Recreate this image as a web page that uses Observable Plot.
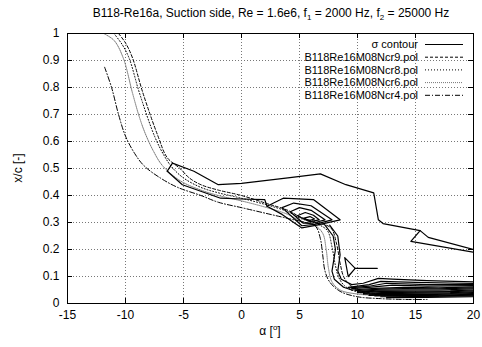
<!DOCTYPE html>
<html><head><meta charset="utf-8">
<script src="https://cdn.jsdelivr.net/npm/d3@7"></script>
<script src="https://cdn.jsdelivr.net/npm/@observablehq/plot@0.6"></script>
<style>
body{margin:0;background:#fff;}
svg{font-family:"Liberation Sans",Arial,sans-serif;}
</style></head>
<body><div id="chart"></div>
<script>
const xTicks = [-15, -10, -5, 0, 5, 10, 15, 20];
const yTicks = [0, 0.1, 0.2, 0.3, 0.4, 0.5, 0.6, 0.7, 0.8, 0.9, 1];
const legendLabels = ["σ contour", "B118Re16M08Ncr9.pol", "B118Re16M08Ncr8.pol", "B118Re16M08Ncr6.pol", "B118Re16M08Ncr4.pol"];

const ncr9 = [[-10.6,1.0],[-10.0,0.965],[-9.4,0.91],[-8.5,0.78],[-7.2,0.62],[-6.4,0.54],[-5.3,0.50],[-4.5,0.465],[-3.5,0.44],[-2,0.42],[0,0.40],[2.2,0.37],[4,0.345],[5.1,0.32],[6.5,0.30],[7.7,0.28],[8.2,0.22],[8.5,0.15],[8.8,0.10],[9.3,0.07],[10,0.05],[11,0.04],[13,0.033],[15,0.03]];
const ncr8 = [[-11.0,1.0],[-10.3,0.96],[-9.7,0.91],[-8.8,0.78],[-7.5,0.62],[-6.7,0.55],[-6.0,0.505],[-5,0.465],[-3.5,0.43],[-2,0.41],[0,0.39],[2.2,0.365],[4,0.34],[5.1,0.315],[6.5,0.295],[7.4,0.27],[7.8,0.21],[8.1,0.14],[8.4,0.095],[8.9,0.065],[9.8,0.045],[11,0.035],[13,0.03],[15,0.027]];
const ncr6 = [[-11.9,1.0],[-11,0.975],[-10.2,0.91],[-9.4,0.78],[-8.8,0.69],[-8.3,0.63],[-7.6,0.565],[-6.8,0.51],[-5.3,0.455],[-3.5,0.42],[-2,0.40],[0,0.38],[2.2,0.355],[4,0.33],[5.1,0.305],[6.3,0.29],[7.0,0.26],[7.3,0.20],[7.5,0.13],[7.8,0.08],[8.5,0.05],[10,0.035],[12,0.03],[14,0.028],[17,0.026]];
const ncr4 = [[-11.8,0.875],[-11.2,0.80],[-10.6,0.70],[-10.0,0.62],[-9.2,0.555],[-8.4,0.51],[-7,0.465],[-5.5,0.43],[-3.5,0.40],[-2,0.375],[0,0.355],[2,0.335],[4,0.315],[5.5,0.30],[6.4,0.285],[6.8,0.24],[7.0,0.18],[7.2,0.12],[7.6,0.08],[8.5,0.045],[10,0.025],[12,0.018],[14,0.015],[16,0.015]];

const sigmaUpper = [[-6.4,0.49],[-5.95,0.52],[-4.1,0.49],[-2.0,0.44],[0,0.445],[2,0.455],[4,0.465],[6.8,0.48],[9,0.44],[11.4,0.41],[11.6,0.36],[11.8,0.31],[12.2,0.296],[15.4,0.27],[14.6,0.23],[20,0.19]];
const sigmaSpike = [[15.4,0.27],[16.1,0.245],[20,0.2]];
const sigmaLower = [[-6.4,0.49],[-5.1,0.44],[-1.8,0.39],[0,0.387],[2,0.385],[2.2,0.36]];
const sigmaLoop1 = [[2.2,0.36],[3.6,0.39],[6.2,0.385],[8.5,0.31],[6.5,0.29],[5.2,0.28],[3.5,0.33],[2.2,0.36]];
const sigmaLoop2 = [[3.5,0.355],[4.5,0.372],[6.0,0.362],[7.8,0.31],[6.3,0.293],[5.2,0.288],[3.5,0.355]];
const sigmaLoop3 = [[4.2,0.34],[5.0,0.355],[6.0,0.345],[7.2,0.31],[6.2,0.298],[5.3,0.298],[4.2,0.34]];
const sigmaLoop4 = [[4.8,0.325],[5.5,0.337],[6.2,0.327],[6.7,0.31],[5.9,0.303],[4.8,0.325]];
const sigmaLoop5 = [[5.4,0.316],[5.9,0.322],[6.3,0.313],[5.8,0.307],[5.4,0.316]];
const sigmaDrop1 = [[7.2,0.29],[7.9,0.25],[8.1,0.20],[7.8,0.12],[8.0,0.09],[8.8,0.06],[9.5,0.05]];
const sigmaDrop2 = [[7.6,0.29],[8.3,0.25],[8.5,0.18],[8.3,0.12],[8.6,0.09],[9.5,0.07]];
const sigmaTri = [[8.9,0.17],[9.8,0.13],[9.2,0.10],[8.9,0.17]];
const sigmaStem = [[9.8,0.13],[11.7,0.13]];
const sigmaBottom = [
  [[9.5,0.07],[10.5,0.075],[11.8,0.093],[13,0.09],[16,0.085],[20,0.08]],
  [[9.2,0.06],[11,0.07],[12,0.082],[15,0.078],[20,0.074]],
  [[9.3,0.058],[11,0.064],[12.5,0.075],[16,0.07],[20,0.07]],
  [[9.5,0.055],[11,0.06],[13,0.068],[16,0.064],[20,0.066]],
  [[9.5,0.05],[11.5,0.056],[14,0.06],[17,0.058],[20,0.062]],
  [[9.8,0.048],[12,0.053],[14,0.055],[17,0.054],[20,0.058]],
  [[10,0.045],[12,0.05],[14,0.05],[17,0.05],[20,0.054]],
  [[10,0.042],[12,0.047],[15,0.046],[18,0.047],[20,0.05]],
  [[10,0.04],[12,0.044],[15,0.042],[18,0.044],[20,0.047]],
  [[10.5,0.037],[12.5,0.041],[15,0.039],[18,0.04],[20,0.043]],
  [[10.5,0.035],[12.5,0.038],[15,0.036],[18,0.037],[20,0.04]],
  [[11,0.032],[13,0.035],[16,0.033],[20,0.037]],
  [[11,0.03],[13,0.032],[16,0.03],[20,0.034]],
  [[11.5,0.028],[14,0.029],[17,0.028],[20,0.031]],
  [[12,0.025],[15,0.026],[20,0.028]],
  [[12.5,0.022],[16,0.023],[20,0.025]]
];

const sigmaLines = [sigmaUpper, sigmaSpike, sigmaLower, sigmaLoop1, sigmaLoop2, sigmaLoop3, sigmaLoop4, sigmaLoop5, sigmaDrop1, sigmaDrop2, sigmaTri, sigmaStem, ...sigmaBottom];
const sigmaData = sigmaLines.flatMap((pts, i) => pts.map(([a, v]) => ({id: i, a, v})));
const toRows = pts => pts.map(([a, v]) => ({a, v}));

const W = 482, H = 347;
const mL = 67, mR = 9, mT = 33, mB = 44;
const fw = W - mL - mR, fh = H - mT - mB;
const FS = 12;
const LFS = 11;

const styles = [
  {stroke: "black", dash: null, width: 1},
  {stroke: "black", dash: "3,2", width: 1},
  {stroke: "black", dash: "1,2", width: 1},
  {stroke: "#777", dash: "1,1", width: 1},
  {stroke: "black", dash: "5,2,1,2", width: 1}
];

const plot = Plot.plot({
  width: W, height: H,
  marginLeft: mL, marginRight: mR, marginTop: mT, marginBottom: mB,
  style: {fontFamily: "Liberation Sans, Arial, sans-serif", fontSize: FS + "px", color: "black", background: "white"},
  x: {domain: [-15, 20]},
  y: {domain: [0, 1]},
  marks: [
    Plot.gridX(xTicks, {stroke: "#777", strokeOpacity: 1, strokeDasharray: "1,2"}),
    Plot.gridY(yTicks, {stroke: "#777", strokeOpacity: 1, strokeDasharray: "1,2"}),
    Plot.ruleX(xTicks, {x: d => d, insetTop: fh - 5, stroke: "black"}),
    Plot.ruleX(xTicks, {x: d => d, insetBottom: fh - 5, stroke: "black"}),
    Plot.ruleY(yTicks, {y: d => d, insetRight: fw - 5, stroke: "black"}),
    Plot.ruleY(yTicks, {y: d => d, insetLeft: fw - 5, stroke: "black"}),
    Plot.axisX(xTicks, {tickSize: 0, tickPadding: 7, tickFormat: d => String(d), label: null, fontSize: FS}),
    Plot.axisY(yTicks, {tickSize: 0, tickPadding: 8, tickFormat: d => String(d), label: null, fontSize: FS}),
    Plot.line(toRows(ncr6), {x: "a", y: "v", stroke: styles[3].stroke, strokeDasharray: styles[3].dash, strokeWidth: 1, curve: "catmull-rom", clip: true}),
    Plot.line(toRows(ncr4), {x: "a", y: "v", stroke: "black", strokeDasharray: styles[4].dash, strokeWidth: 1, curve: "catmull-rom", clip: true}),
    Plot.line(toRows(ncr8), {x: "a", y: "v", stroke: "black", strokeDasharray: styles[2].dash, strokeWidth: 1, curve: "catmull-rom", clip: true}),
    Plot.line(toRows(ncr9), {x: "a", y: "v", stroke: "black", strokeDasharray: styles[1].dash, strokeWidth: 1, curve: "catmull-rom", clip: true}),
    Plot.line(sigmaData, {x: "a", y: "v", z: "id", stroke: "black", strokeWidth: 1.2, clip: true}),
    Plot.frame({stroke: "black"})
  ]
});

const svg = d3.select(plot);
// title
const t = svg.append("text").attr("x", 271).attr("y", 17).attr("text-anchor", "middle")
  .attr("font-size", FS).attr("fill", "black");
t.append("tspan").text("B118-Re16a, Suction side, Re = 1.6e6, f");
t.append("tspan").attr("font-size", 8).attr("dy", 3).text("1");
t.append("tspan").attr("dy", -3).text(" = 2000 Hz, f");
t.append("tspan").attr("font-size", 8).attr("dy", 3).text("2");
t.append("tspan").attr("dy", -3).text(" = 25000 Hz");
// axis labels
svg.append("text").attr("transform", `translate(22,${mT + fh / 2}) rotate(-90)`).attr("text-anchor", "middle")
  .attr("font-size", FS).attr("fill", "black").text("x/c [-]");
const xl = svg.append("text").attr("x", mL + fw / 2).attr("y", 335).attr("text-anchor", "middle")
  .attr("font-size", FS).attr("fill", "black");
xl.append("tspan").text("α [");
xl.append("tspan").attr("font-size", 8).attr("dy", -5).text("o");
xl.append("tspan").attr("dy", 5).text("]");
// legend
legendLabels.forEach((lab, i) => {
  const y = 44.5 + i * 12.7;
  svg.append("text").attr("x", 418).attr("y", y).attr("dy", "0.35em").attr("text-anchor", "end")
    .attr("font-size", LFS).attr("fill", "black").text(lab);
  const s = styles[i];
  svg.append("line").attr("x1", 425).attr("x2", 463).attr("y1", y).attr("y2", y)
    .attr("stroke", s.stroke).attr("stroke-width", s.width)
    .attr("stroke-dasharray", s.dash);
});
document.getElementById("chart").appendChild(plot);
</script></body></html>
